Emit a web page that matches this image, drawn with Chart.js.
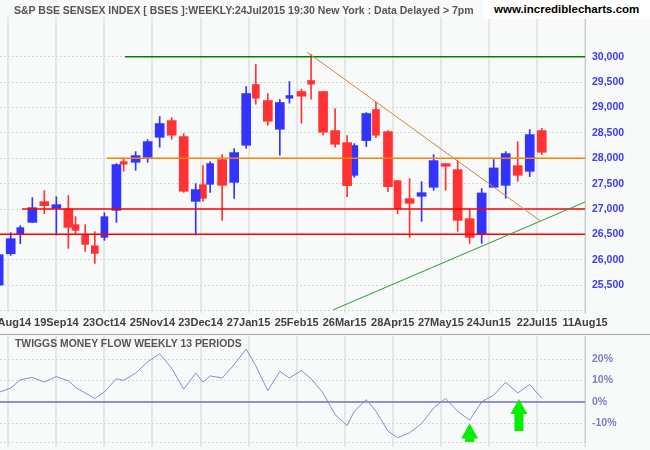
<!DOCTYPE html>
<html>
<head>
<meta charset="utf-8">
<script src="https://cdn.jsdelivr.net/npm/chart.js@4.4.1/dist/chart.umd.min.js"></script>
<style>
  body { margin: 0; background: #f8f9f9; }
  #wrap { position: relative; width: 650px; height: 450px; overflow: hidden; font-family: 'Liberation Sans', Arial, sans-serif; }
  #head { position: absolute; left: 14px; top: 4px; font-size: 10.5px; font-weight: bold; color: #555; line-height: 12px; white-space: nowrap; }
  #site { position: absolute; left: 483px; top: 0; width: 167px; height: 19px; background: #fff; font-size: 11.5px; font-weight: bold; color: #000; line-height: 19px; text-indent: 11px; white-space: nowrap; }
  #priceChart { position: absolute; left: 0; top: 0; }
  #flowBox { position: absolute; left: 0; top: 334px; width: 650px; height: 116px; border-top: 1px solid #a8a8a8; box-sizing: border-box; }
  #flowBox canvas { display: block; }
  #flowTitle { position: absolute; left: 15px; top: 338px; font-size: 10.4px; font-weight: bold; color: #555; line-height: 12px; white-space: nowrap; }
</style>
</head>
<body>
<div id="wrap">
  <canvas id="priceChart" width="650" height="335"></canvas>
  <div id="head">S&amp;P BSE SENSEX INDEX [ BSES ]:WEEKLY:24Jul2015 19:30 New York : Data Delayed &gt; 7pm</div>
  <div id="site">www.incrediblecharts.com</div>
  <div id="flowBox"><canvas id="flowChart" width="650" height="115"></canvas></div>
  <div id="flowTitle">TWIGGS MONEY FLOW WEEKLY 13 PERIODS</div>
</div>
<script>
// x positions are trading days counted from 21Aug14
const tickDays = [0, 20, 40, 60, 80, 100, 120, 140, 160, 180, 200, 220, 240];
const tickLabels = ['21Aug14', '19Sep14', '23Oct14', '25Nov14', '23Dec14', '27Jan15', '25Feb15', '26Mar15', '28Apr15', '27May15', '24Jun15', '22Jul15', '11Aug15'];

const weekDay = [-4, 1, 5, 10, 15, 20, 25, 28, 32, 36, 40, 45, 48, 53, 58, 63, 68, 73, 78, 81, 84, 89, 94, 99, 103, 108, 113, 117, 122, 126, 131, 136, 141, 144, 149, 153, 158, 162, 167, 172, 177, 182, 187, 192, 197, 202, 207, 212, 217, 222];
const tradingDays = [5, 5, 4, 5, 5, 5, 5, 3, 4, 4, 4, 5, 3, 5, 5, 5, 5, 5, 5, 4, 3, 5, 5, 5, 4, 5, 5, 4, 5, 4, 5, 5, 5, 3, 5, 4, 5, 4, 5, 5, 5, 5, 5, 5, 5, 5, 5, 5, 5, 5];
const open  = [25500, 26118, 26493, 26737, 27145, 27013, 27000, 26691, 26487, 26276, 26441, 26974, 27934, 27921, 28020, 28414, 28743, 28428, 27151, 27480, 27487, 27974, 27526, 28257, 29454, 29138, 28572, 29184, 29316, 29533, 29316, 28546, 28309, 27664, 28349, 28961, 28526, 27559, 27204, 27250, 27428, 27895, 27776, 26809, 26500, 27428, 27467, 27855, 27743, 28546];
const high  = [26150, 26533, 26671, 27224, 27362, 27243, 27263, 26849, 26691, 26553, 26928, 27895, 28007, 28132, 28368, 28822, 28803, 28487, 27500, 27855, 27934, 28072, 28191, 29414, 29849, 29276, 29158, 29513, 29362, 30046, 29316, 28980, 28447, 28289, 28901, 29105, 28546, 27559, 27599, 27539, 28072, 27895, 27954, 27007, 27401, 27974, 28132, 28329, 28566, 28592];
const low   = [25480, 26085, 26316, 26730, 26908, 26487, 26224, 26493, 26164, 25928, 26382, 26737, 27743, 27763, 27921, 28217, 28375, 27329, 26487, 27151, 27329, 26776, 27211, 28197, 29066, 28651, 28059, 29086, 28691, 29164, 28454, 28217, 27243, 27625, 28230, 28408, 27342, 26908, 26441, 26757, 27368, 27368, 26559, 26322, 26322, 27428, 27211, 27546, 27638, 28072];
const close = [26100, 26414, 26632, 27026, 27066, 27086, 26638, 26579, 26303, 26125, 26849, 27875, 27882, 28053, 28329, 28684, 28454, 27349, 27382, 27211, 27895, 27467, 28112, 29276, 29184, 28730, 29099, 29237, 29224, 29461, 28513, 28276, 27461, 28250, 28882, 28454, 27441, 27007, 27112, 27322, 27954, 27842, 26776, 26441, 27316, 27809, 28092, 27664, 28467, 28118];
const moneyFlow = [4.5, 6.5, 10.4, 11.5, 9.3, 11.9, 9.9, 6.8, 4.2, 1.6, 4.7, 10.9, 10.1, 13.5, 18.8, 22.5, 15.8, 6.0, 13.5, 9.3, 12.2, 11.2, 17.4, 24.7, 16.9, 5.3, 14.3, 11.2, 14.7, 10.9, 4.2, -5.9, -11.0, -4.3, 1.1, -4.3, -13.6, -16.7, -14.4, -10.1, -2.8, 1.7, -4.4, -8.5, 0.1, 3.2, 9.2, 4.2, 8.2, 1.7];

// support / resistance levels drawn on the price panel
const levelPrice = [30000, 28000, 27000, 26500];
const levelFrom = [48.6, 41, 5.7, -4];
const levelColor = ['#008000', '#ff8000', '#ff0000', '#ff0000'];
const downTrend = [[124.4, 30091], [221.2, 26775]];
const upTrend = [[135.2, 25012], [240, 27138]];

// signal arrows on the money flow panel
const arrowDay = [192, 212.5];
const arrowTip = [-10, 1.4];

const UP = '#3333ff', DOWN = '#ff3333';
const X_MIN = -3.45, X_MAX = 240;

Chart.defaults.font.family = "'Liberation Sans', Arial, sans-serif";

const colors = close.map((c, i) => c >= open[i] ? UP : DOWN);
const wicks = weekDay.map((d, i) => ({x: d, y: [low[i], high[i]]}));
const bodyFull = [], bodyShort = [], colFull = [], colShort = [];
weekDay.forEach((d, i) => {
    const p = {x: d, y: [open[i], close[i]]};
    if (tradingDays[i] >= 5) { bodyFull.push(p); colFull.push(colors[i]); }
    else { bodyShort.push(p); colShort.push(colors[i]); }
});

const noPad = function (scale) {
    scale.paddingLeft = 0; scale.paddingRight = 0;
    scale.paddingTop = 0; scale.paddingBottom = 0;
};

const levelSets = levelPrice.map((p, i) => ({
    type: 'line',
    data: [{x: levelFrom[i], y: p}, {x: X_MAX, y: p}],
    borderColor: levelColor[i],
    borderWidth: 1.5,
    pointRadius: 0,
    order: 1
}));

new Chart(document.getElementById('priceChart'), {
    type: 'bar',
    data: {
        datasets: [
            { data: wicks, backgroundColor: colors, barThickness: 1, grouped: false, order: 4 },
            { data: bodyFull, backgroundColor: colFull, barThickness: 9, grouped: false, order: 3 },
            { data: bodyShort, backgroundColor: colShort, barThickness: 7, grouped: false, order: 3 },
            ...levelSets,
            { type: 'line', data: downTrend.map(p => ({x: p[0], y: p[1]})), borderColor: '#cd853f', borderWidth: 1, pointRadius: 0, order: 0 },
            { type: 'line', data: upTrend.map(p => ({x: p[0], y: p[1]})), borderColor: '#2e9a2e', borderWidth: 1, pointRadius: 0, order: 0 }
        ]
    },
    options: {
        responsive: false,
        animation: false,
        layout: { padding: { top: 17 } },
        plugins: { legend: { display: false }, tooltip: { enabled: false } },
        scales: {
            x: {
                type: 'linear',
                min: X_MIN,
                max: X_MAX,
                offset: false,
                afterBuildTicks: s => { s.ticks = tickDays.map(v => ({value: v})); },
                afterFit: s => { s.height = 22; noPad(s); },
                grid: { offset: false, color: '#e5e7e7', lineWidth: 2, drawTicks: false },
                border: { display: false },
                ticks: {
                    autoSkip: false, maxRotation: 0, padding: 3,
                    color: '#404040', font: { size: 11, weight: 'bold' },
                    callback: v => tickLabels[tickDays.indexOf(v)]
                }
            },
            y: {
                position: 'right',
                min: 24950,
                max: 30785,
                afterBuildTicks: s => {
                    const t = [];
                    for (let v = 25000; v <= 30000; v += 500) t.push({value: v});
                    s.ticks = t;
                },
                afterFit: s => { s.width = 65; noPad(s); },
                grid: { color: '#d6d8d8', lineWidth: 1, drawTicks: false },
                border: { color: '#c8c8c8', width: 1, dash: [2, 2] },
                ticks: {
                    padding: 7, color: '#3c3cf0', font: { size: 10.5, weight: 'bold' },
                    callback: v => v === 25000 ? '' : v.toLocaleString('en-US')
                }
            }
        }
    }
});

const arrows = {
    id: 'arrows',
    afterDatasetsDraw(chart) {
        const {ctx, chartArea: a, scales} = chart;
        ctx.save();
        ctx.beginPath();
        ctx.rect(a.left, a.top, a.right - a.left, a.bottom - a.top);
        ctx.clip();
        ctx.fillStyle = '#00f000';
        arrowDay.forEach((d, i) => {
            const x = scales.x.getPixelForValue(d);
            const y = scales.y.getPixelForValue(arrowTip[i]);
            ctx.beginPath();
            ctx.moveTo(x, y);
            ctx.lineTo(x + 8.5, y + 15);
            ctx.lineTo(x + 4.5, y + 15);
            ctx.lineTo(x + 4.5, y + 32);
            ctx.lineTo(x - 4.5, y + 32);
            ctx.lineTo(x - 4.5, y + 15);
            ctx.lineTo(x - 8.5, y + 15);
            ctx.closePath();
            ctx.fill();
        });
        ctx.restore();
    }
};

new Chart(document.getElementById('flowChart'), {
    type: 'line',
    data: {
        datasets: [
            { data: [{x: X_MIN, y: 0}, {x: X_MAX, y: 0}], borderColor: '#7272c4', borderWidth: 1.5, pointRadius: 0, order: 1 },
            { data: weekDay.map((d, i) => ({x: d, y: moneyFlow[i]})), borderColor: '#8a8ad0', borderWidth: 1, pointRadius: 0, order: 0 }
        ]
    },
    options: {
        responsive: false,
        animation: false,
        layout: { padding: { top: 1 } },
        plugins: { legend: { display: false }, tooltip: { enabled: false } },
        scales: {
            x: {
                type: 'linear',
                min: X_MIN,
                max: X_MAX,
                afterBuildTicks: s => { s.ticks = tickDays.map(v => ({value: v})); },
                afterFit: s => { s.height = 8; noPad(s); },
                grid: { color: '#e5e7e7', lineWidth: 2, tickLength: 5 },
                border: { display: false },
                ticks: { display: false }
            },
            y: {
                position: 'right',
                min: -18.7,
                max: 30.85,
                afterBuildTicks: s => { s.ticks = [-18.7, -10, 0, 10, 20].map(v => ({value: v})); },
                afterFit: s => { s.width = 65; noPad(s); },
                grid: { color: '#d6d8d8', lineWidth: 1, drawTicks: false },
                border: { color: '#c8c8c8', width: 1, dash: [2, 2] },
                ticks: {
                    padding: 7, color: '#7c7cc4', font: { size: 10.5, weight: 'bold' },
                    callback: v => v === -18.7 ? '' : v + '%'
                }
            }
        }
    },
    plugins: [arrows]
});
</script>
</body>
</html>
